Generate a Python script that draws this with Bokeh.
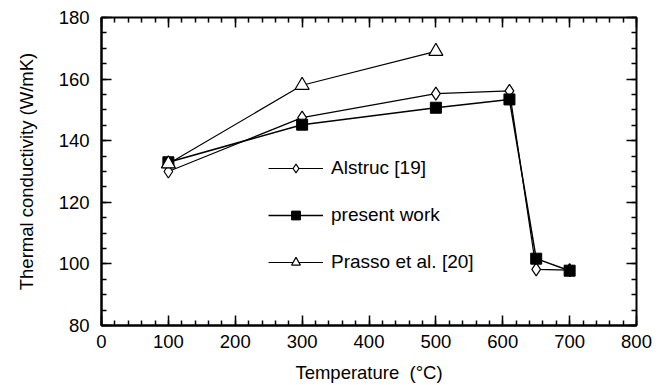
from bokeh.plotting import figure
from bokeh.models import (LinearAxis, SingleIntervalTicker, Range1d, Legend, LegendItem,
                          CustomJSTickFormatter)
from bokeh.embed import file_html
from bokeh.resources import INLINE

# Data
alstruc_t = [100, 300, 500, 610, 650, 700]
alstruc_k = [130, 147.5, 155.3, 156.2, 98.2, 98.0]
present_t = [100, 300, 500, 610, 650, 700]
present_k = [133, 145.2, 150.7, 153.4, 101.7, 97.8]
prasso_t = [100, 300, 500]
prasso_k = [132.5, 158, 169]

x_ticks_interval = 100
y_ticks_interval = 20

FONT = "Liberation Sans"

p = figure(width=661, height=385, output_backend="svg", toolbar_location=None,
           x_range=Range1d(0, 800), y_range=Range1d(80, 180),
           min_border_left=101, min_border_right=25, min_border_top=17, min_border_bottom=60,
           x_axis_label="Temperature\u00a0 (°C)", y_axis_label="Thermal conductivity (W/mK)")
p.grid.visible = False
p.outline_line_color = "black"
p.outline_line_width = 2
p.background_fill_color = "white"
p.border_fill_color = "white"

xt = SingleIntervalTicker(interval=x_ticks_interval, num_minor_ticks=5)
yt = SingleIntervalTicker(interval=y_ticks_interval, num_minor_ticks=4)
p.xaxis.ticker = xt
p.yaxis.ticker = yt

for ax in (p.xaxis[0], p.yaxis[0]):
    ax.axis_line_width = 2
    ax.major_tick_in = 10
    ax.major_tick_out = 0
    ax.minor_tick_in = 5
    ax.minor_tick_out = 0
    ax.major_tick_line_width = 1.5
    ax.minor_tick_line_width = 1.5
    ax.major_label_text_font = FONT
    ax.major_label_text_font_size = "18.5px"
    ax.major_label_text_color = "black"
    ax.axis_label_text_font = FONT
    ax.axis_label_text_font_size = "18.5px"
    ax.axis_label_text_font_style = "normal"
    ax.axis_label_text_color = "black"
p.xaxis.major_label_standoff = 9
p.xaxis.axis_label_standoff = 11
p.yaxis.major_label_standoff = 12
p.yaxis.axis_label_standoff = 19

top = LinearAxis(ticker=SingleIntervalTicker(interval=x_ticks_interval, num_minor_ticks=5),
                 formatter=CustomJSTickFormatter(code="return ''"))
right = LinearAxis(ticker=SingleIntervalTicker(interval=y_ticks_interval, num_minor_ticks=4),
                   formatter=CustomJSTickFormatter(code="return ''"))
for ax in (top, right):
    ax.axis_line_color = None
    ax.major_tick_in = 10
    ax.major_tick_out = 0
    ax.minor_tick_in = 5
    ax.minor_tick_out = 0
    ax.major_tick_line_width = 1.5
    ax.minor_tick_line_width = 1.5
    ax.major_label_standoff = 0
p.add_layout(top, "above")
p.add_layout(right, "right")

l1 = p.line(alstruc_t, alstruc_k, line_color="black", line_width=1.2)
s1 = p.scatter(alstruc_t, alstruc_k, marker="diamond", size=13, fill_color="white",
               line_color="black", line_width=1.2)
l2 = p.line(present_t, present_k, line_color="black", line_width=1.5)
s2 = p.scatter(present_t, present_k, marker="square", size=11, fill_color="black",
               line_color="black")
l3 = p.line(prasso_t, prasso_k, line_color="black", line_width=1.2)
s3 = p.scatter(prasso_t, prasso_k, marker="triangle", size=14, fill_color="white",
               line_color="black", line_width=1.2)

legend = Legend(items=[
    LegendItem(label="Alstruc [19]", renderers=[l1, s1]),
    LegendItem(label="present work", renderers=[l2, s2]),
    LegendItem(label="Prasso et al. [20]", renderers=[l3, s3]),
], location=(167, 52))
legend.border_line_color = None
legend.background_fill_alpha = 0
legend.label_text_font = FONT
legend.label_text_font_size = "19px"
legend.label_text_color = "black"
legend.glyph_width = 55
legend.glyph_height = 22
legend.label_height = 22
legend.spacing = 25
legend.padding = 0
legend.margin = 0
legend.label_standoff = 8
p.add_layout(legend, "center")

open("out.html", "w").write(file_html(p, INLINE))
